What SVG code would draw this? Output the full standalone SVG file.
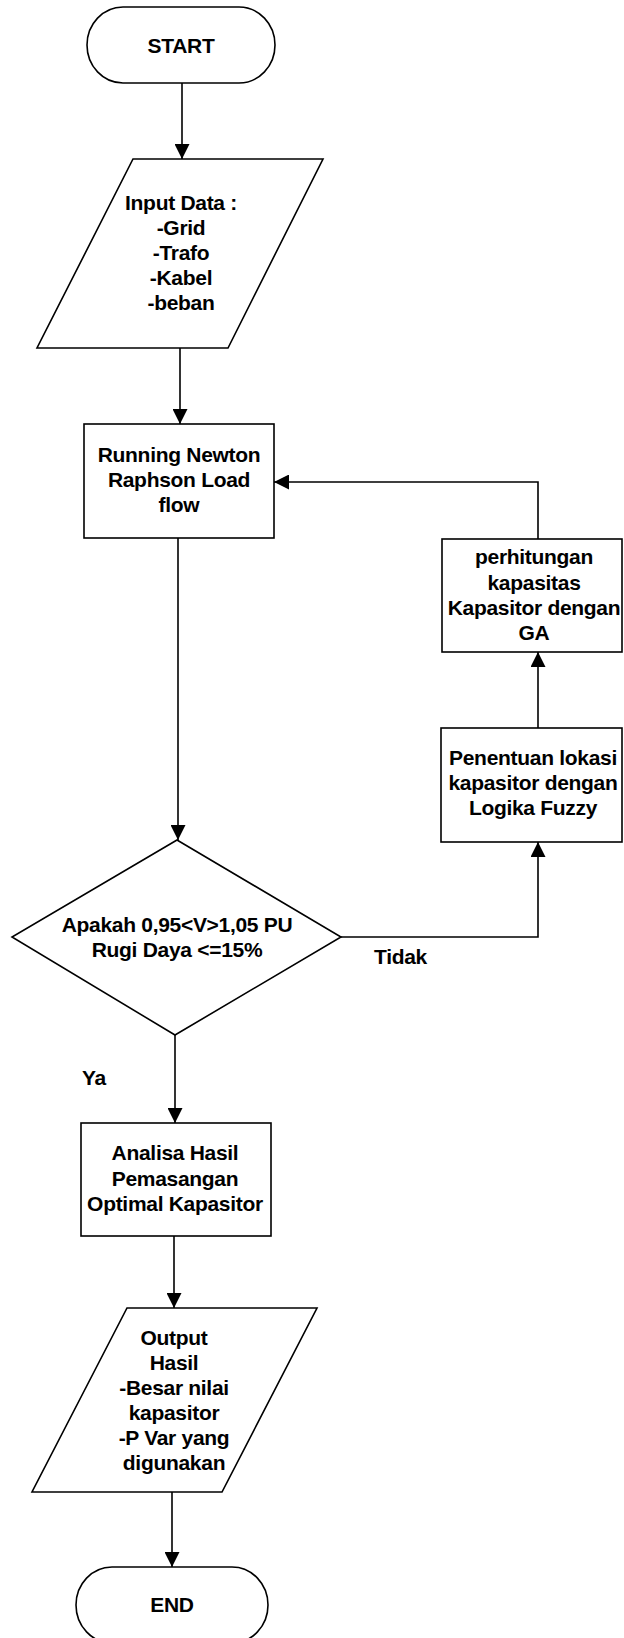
<svg xmlns="http://www.w3.org/2000/svg" width="624" height="1638" viewBox="0 0 624 1638">
<defs>
<style>
.s{fill:#fff;stroke:#000;stroke-width:1.6}
.c{fill:none;stroke:#000;stroke-width:1.6}
text{font-family:"Liberation Sans",Arial,sans-serif;font-weight:bold;font-size:21px;letter-spacing:-0.3px;fill:#000}
.m{text-anchor:middle}
</style>
<marker id="ah" markerWidth="15" markerHeight="15" viewBox="0 0 15 15" refX="15" refY="7.5" orient="auto" markerUnits="userSpaceOnUse">
<path d="M0,0 L15,7.5 L0,15 Z" fill="#000"/>
</marker>
</defs>
<rect width="624" height="1638" fill="#fff"/>
<g id="connectors">
<path class="c" d="M182,83 V159" marker-end="url(#ah)"/>
<path class="c" d="M180,348 V424" marker-end="url(#ah)"/>
<path class="c" d="M178,538 V840" marker-end="url(#ah)"/>
<path class="c" d="M341,937 H538 V842" marker-end="url(#ah)"/>
<path class="c" d="M538,728 V652" marker-end="url(#ah)"/>
<path class="c" d="M538,539 V482 H274" marker-end="url(#ah)"/>
<path class="c" d="M175,1035 V1123" marker-end="url(#ah)"/>
<path class="c" d="M174,1236 V1308" marker-end="url(#ah)"/>
<path class="c" d="M172,1492 V1567" marker-end="url(#ah)"/>
<text x="374" y="964">Tidak</text>
<text x="82" y="1085">Ya</text>
</g>
<g id="start">
<rect class="s" x="87" y="7" width="188" height="76" rx="36" ry="38"/>
<text class="m" x="181" y="53">START</text>
</g>
<g id="input">
<polygon class="s" points="133,159 323,159 228,348 37,348"/>
<text class="m" x="181" y="210">Input Data :</text>
<text class="m" x="181" y="235">-Grid</text>
<text class="m" x="181" y="260">-Trafo</text>
<text class="m" x="181" y="285">-Kabel</text>
<text class="m" x="181" y="310">-beban</text>
</g>
<g id="loadflow">
<rect class="s" x="84" y="424" width="190" height="114"/>
<text class="m" x="179" y="462">Running Newton</text>
<text class="m" x="179" y="487">Raphson Load</text>
<text class="m" x="179" y="512">flow</text>
</g>
<g id="ga">
<rect class="s" x="442" y="539" width="180" height="113"/>
<text class="m" x="534" y="564">perhitungan</text>
<text class="m" x="534" y="590">kapasitas</text>
<text class="m" x="534" y="615">Kapasitor dengan</text>
<text class="m" x="534" y="640">GA</text>
</g>
<g id="fuzzy">
<rect class="s" x="441" y="728" width="181" height="114"/>
<text class="m" x="533" y="765">Penentuan lokasi</text>
<text class="m" x="533" y="790">kapasitor dengan</text>
<text class="m" x="533" y="815">Logika Fuzzy</text>
</g>
<g id="decision">
<polygon class="s" points="177,840 341,937 175,1035 12,937"/>
<text class="m" x="177" y="932">Apakah 0,95&lt;V&gt;1,05 PU</text>
<text class="m" x="177" y="957">Rugi Daya &lt;=15%</text>
</g>
<g id="analisa">
<rect class="s" x="81" y="1123" width="190" height="113"/>
<text class="m" x="175" y="1160">Analisa Hasil</text>
<text class="m" x="175" y="1186">Pemasangan</text>
<text class="m" x="175" y="1211">Optimal Kapasitor</text>
</g>
<g id="output">
<polygon class="s" points="127,1308 317,1308 222,1492 32,1492"/>
<text class="m" x="174" y="1345">Output</text>
<text class="m" x="174" y="1370">Hasil</text>
<text class="m" x="174" y="1395">-Besar nilai</text>
<text class="m" x="174" y="1420">kapasitor</text>
<text class="m" x="174" y="1445">-P Var yang</text>
<text class="m" x="174" y="1470">digunakan</text>
</g>
<g id="end">
<rect class="s" x="76" y="1567" width="192" height="76" rx="36" ry="38"/>
<text class="m" x="172" y="1612">END</text>
</g>
</svg>
